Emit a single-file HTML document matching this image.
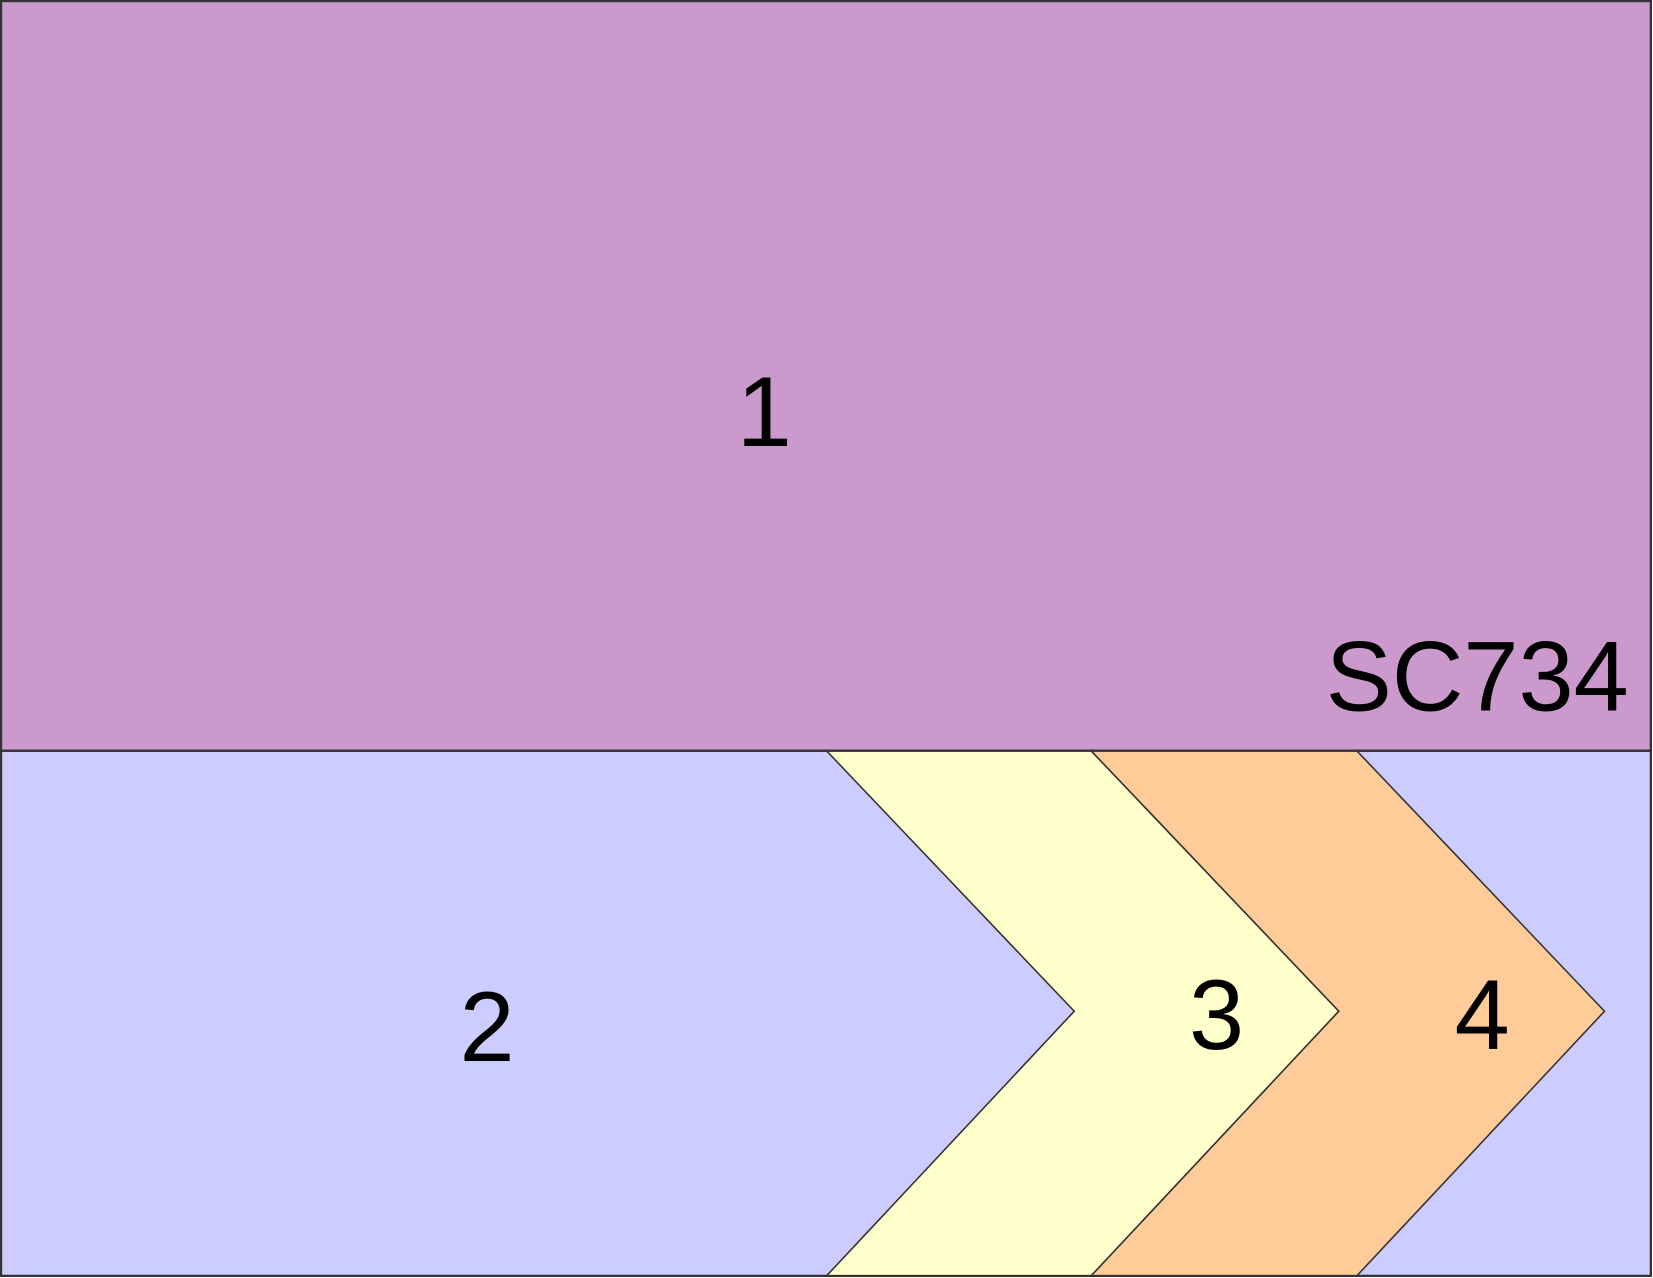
<!DOCTYPE html>
<html>
<head>
<meta charset="utf-8">
<style>
  html, body { margin: 0; padding: 0; background: #fff; }
  svg { display: block; }
  text { font-family: "Liberation Sans", Arial, sans-serif; fill: #000; }
</style>
</head>
<body>
<svg width="1653" height="1278" viewBox="0 0 1568 1212" preserveAspectRatio="none" xmlns="http://www.w3.org/2000/svg">
  <rect x="0" y="0" width="1568" height="1212" fill="#fff"/>
  <rect x="1" y="1" width="1565" height="711" fill="#CC99CC" stroke="#333" stroke-width="2"/>
  <rect x="1" y="712" width="1565" height="498" fill="#CCCCFF" stroke="#333" stroke-width="2"/>
  <polygon points="784,712 1035,712 1270,959 1035,1210 784,1210 1019,959" fill="#FFFFCC" stroke="#333" stroke-width="1.5"/>
  <polygon points="1035,712 1287,712 1522,959 1287,1210 1035,1210 1270,959" fill="#FFCC99" stroke="#333" stroke-width="1.5"/>
  <rect x="1" y="1" width="1565" height="1209" fill="none" stroke="#333" stroke-width="2"/>
  <line x1="1" y1="712" x2="1566" y2="712" stroke="#333" stroke-width="2"/>
  <text x="725" y="423" font-size="94" text-anchor="middle">1</text>
  <text x="1545" y="674" font-size="94" text-anchor="end">SC734</text>
  <text x="462" y="1006" font-size="94" text-anchor="middle">2</text>
  <text x="1154" y="995" font-size="94" text-anchor="middle">3</text>
  <text x="1406" y="995" font-size="94" text-anchor="middle">4</text>
</svg>
</body>
</html>
